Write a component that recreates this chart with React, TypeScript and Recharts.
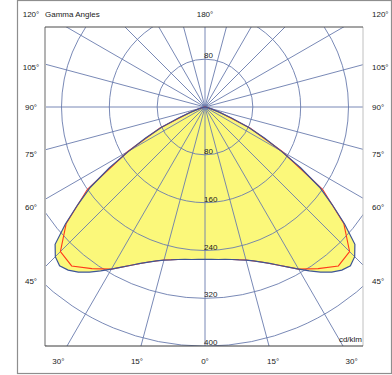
import React from 'react';
import { RadarChart, Radar, PolarGrid, PolarAngleAxis, PolarRadiusAxis } from 'recharts';

// ---- data ----
// gamma angle from nadir (deg) -> luminous intensity (cd/klm); upper hemisphere emits nothing
const gammaFine = [0, 2.5, 5, 7.5, 10, 12.5, 15, 17.5, 20, 22.5, 25, 27.5, 30, 32.5, 35, 37.5, 40, 42.5, 45, 47.5, 50, 52.5, 55, 57.5, 60, 62.5, 65, 67.5, 70, 72.5, 75, 77.5, 80, 82.5, 85, 87.5, 90];
const planeC0Intensity = [255, 255, 256, 257, 259, 262, 265, 270, 276, 283, 292, 302, 313, 325, 337, 348, 356, 360, 354, 340, 305, 268, 234, 190, 146, 112, 80, 48, 25, 12, 6, 3, 2, 1, 1, 0, 0];
const gammaCoarse = [0, 5, 10, 15, 20, 25, 30, 35, 40, 45, 50, 55, 60, 65, 70, 75, 80, 85, 90];
const planeC90Intensity = [255, 256, 259, 265, 276, 292, 313, 330, 347, 342, 303, 240, 149, 83, 27, 7, 2, 1, 0];

const ringValues = [80, 160, 240, 320, 400];
const gridAngles = [0, 15, 30, 45, 60, 75, 90, 105, 120, 135, 150, 165, 180, 195, 210, 225, 240, 255, 270, 285, 300, 315, 330, 345];
const sideLabels = [105, 90, 75, 60, 45];
const bottomLabels = [-30, -15, 0, 15, 30];
const topLeftLabel = '120°';
const topCenterLabel = '180°';
const titleText = 'Gamma Angles';
const unitText = 'cd/klm';

// ---- build full-circle tables (symmetric planes) ----
function buildPlane(gammas: number[], values: number[]) {
  const step = gammas[1] - gammas[0];
  const n = Math.round(360 / step);
  const rows: { angle: number; value: number }[] = [];
  for (let k = 0; k < n; k++) {
    const a = k * step;
    const g = a <= 180 ? a : 360 - a;
    const i = gammas.indexOf(g);
    rows.push({ angle: a, value: i >= 0 ? values[i] : 0 });
  }
  return rows;
}
const planeC0 = buildPlane(gammaFine, planeC0Intensity);
const planeC90 = buildPlane(gammaCoarse, planeC90Intensity);

// ---- layout ----
const PAGE_W = 392;
const PAGE_H = 375;
const PLOT_L = 45;
const PLOT_T = 27;
const PLOT_R = 363;
const PLOT_B = 346;
const PW = PLOT_R - PLOT_L;
const PH = PLOT_B - PLOT_T;
const CX = 160; // inside plot
const CY = 80;
const OUTER_R = 287; // corresponds to 480 cd/klm
const DOMAIN_MAX = 480;
const PCX = PLOT_L + CX;
const PCY = PLOT_T + CY;

const FONT = '"Liberation Sans", Arial, Helvetica, sans-serif';
const GRID = '#6a7cae';
const BLUE = '#3d5595';
const RED = '#ff3a1a';
const YELLOW = '#fbf87a';
const TEXT = '#1a1a1a';

const chartProps = {
  width: PW,
  height: PH,
  cx: CX,
  cy: CY,
  innerRadius: 0,
  outerRadius: OUTER_R,
  startAngle: -90,
  endAngle: -450,
  margin: { top: 0, right: 0, bottom: 0, left: 0 },
};

const makeTick = (allowed: number[]) => (props: any) => {
  const { x, y, payload } = props;
  const v = payload ? payload.value : undefined;
  if (!allowed.includes(v)) return <g />;
  return (
    <text x={x - 1} y={y - 1} textAnchor="start" fontSize={8} fontFamily={FONT} fill={TEXT}>
      {v}
    </text>
  );
};

const layer: React.CSSProperties = { position: 'absolute', left: 0, top: 0 };

function sideLabelCenterY(g: number) {
  if (g <= 90) return PCY + (PCX - 31) / Math.tan((g * Math.PI) / 180);
  // above the horizontal: where the spoke meets the plot edge
  return PCY + (PCX - PLOT_L) / Math.tan((g * Math.PI) / 180) + 2.5;
}

export default function App() {
  return (
    <div style={{ position: 'absolute', left: 0, top: 0, width: PAGE_W, height: PAGE_H, background: '#fff', overflow: 'hidden' }}>
      <div style={{ position: 'absolute', left: PLOT_L, top: PLOT_T, width: PW, height: PH, overflow: 'hidden' }}>
        {/* fill */}
        <div style={layer}>
          <RadarChart {...chartProps} data={planeC0}>
            <PolarAngleAxis dataKey="angle" tick={false} axisLine={false} tickLine={false} />
            <PolarRadiusAxis type="number" domain={[0, DOMAIN_MAX]} tickCount={7} tick={false} axisLine={false} tickLine={false} />
            <Radar dataKey="value" stroke="none" fill={YELLOW} fillOpacity={1} isAnimationActive={false} />
          </RadarChart>
        </div>
        {/* grid + upper ring label */}
        <div style={layer}>
          <RadarChart {...chartProps} data={planeC0}>
            <PolarAngleAxis dataKey="angle" tick={false} axisLine={false} tickLine={false} />
            <PolarRadiusAxis
              angle={90}
              type="number"
              domain={[0, DOMAIN_MAX]}
              tickCount={7}
              axisLine={false}
              tickLine={false}
              tick={makeTick([ringValues[0]])}
            />
            <PolarGrid gridType="circle" polarAngles={gridAngles} stroke={GRID} strokeWidth={0.9} strokeOpacity={1} />
            <Radar dataKey="value" stroke="none" fill="none" fillOpacity={0} isAnimationActive={false} />
          </RadarChart>
        </div>
        {/* C90 plane line */}
        <div style={layer}>
          <RadarChart {...chartProps} data={planeC90}>
            <PolarAngleAxis dataKey="angle" tick={false} axisLine={false} tickLine={false} />
            <PolarRadiusAxis type="number" domain={[0, DOMAIN_MAX]} tickCount={7} tick={false} axisLine={false} tickLine={false} />
            <Radar dataKey="value" stroke={RED} strokeWidth={1.1} fill="none" fillOpacity={0} isAnimationActive={false} />
          </RadarChart>
        </div>
        {/* C0 plane line + ring labels */}
        <div style={layer}>
          <RadarChart {...chartProps} data={planeC0}>
            <PolarAngleAxis dataKey="angle" tick={false} axisLine={false} tickLine={false} />
            <PolarRadiusAxis
              angle={-90}
              type="number"
              domain={[0, DOMAIN_MAX]}
              tickCount={7}
              axisLine={false}
              tickLine={false}
              tick={makeTick(ringValues)}
            />
            <Radar dataKey="value" stroke={BLUE} strokeWidth={1.2} fill="none" fillOpacity={0} isAnimationActive={false} />
          </RadarChart>
        </div>
      </div>

      {/* frame + angle labels */}
      <svg width={PAGE_W} height={PAGE_H} style={{ position: 'absolute', left: 0, top: 0, pointerEvents: 'none' }}>
        <rect x={17.5} y={0.5} width={374} height={373} fill="none" stroke="#8e8e8e" strokeWidth={1.2} />
        <line x1={PLOT_L} y1={PLOT_T} x2={PLOT_L} y2={PLOT_B} stroke="#b3b3b3" strokeWidth={2} />
        <line x1={PLOT_R} y1={PLOT_T} x2={PLOT_R} y2={PLOT_B} stroke="#c0c0c0" strokeWidth={1} />
        <line x1={PLOT_L} y1={PLOT_T} x2={PLOT_R} y2={PLOT_T} stroke="#4a4a4a" strokeWidth={1} />
        <line x1={PLOT_L} y1={PLOT_B} x2={PLOT_R} y2={PLOT_B} stroke="#3a3a3a" strokeWidth={1} />

        <g fontFamily={FONT} fontSize={8} fill={TEXT}>
          <text x={31} y={17.3} textAnchor="middle">{topLeftLabel}</text>
          <text x={PLOT_L} y={17.3} textAnchor="start">{titleText}</text>
          <text x={PCX} y={17.3} textAnchor="middle">{topCenterLabel}</text>
          <text x={372} y={17.3} textAnchor="start">{topLeftLabel}</text>
          {sideLabels.map((g) => {
            const yc = sideLabelCenterY(g);
            return (
              <g key={g}>
                <text x={31} y={yc + 3} textAnchor="middle">{`${g}°`}</text>
                <text x={372} y={yc + 3} textAnchor="start">{`${g}°`}</text>
              </g>
            );
          })}
          {bottomLabels.map((g, i) => (
            <text key={i} x={PCX + 254 * Math.tan((g * Math.PI) / 180)} y={364} textAnchor="middle">
              {`${Math.abs(g)}°`}
            </text>
          ))}
          <text x={362} y={342} textAnchor="end">{unitText}</text>
        </g>
      </svg>
    </div>
  );
}
